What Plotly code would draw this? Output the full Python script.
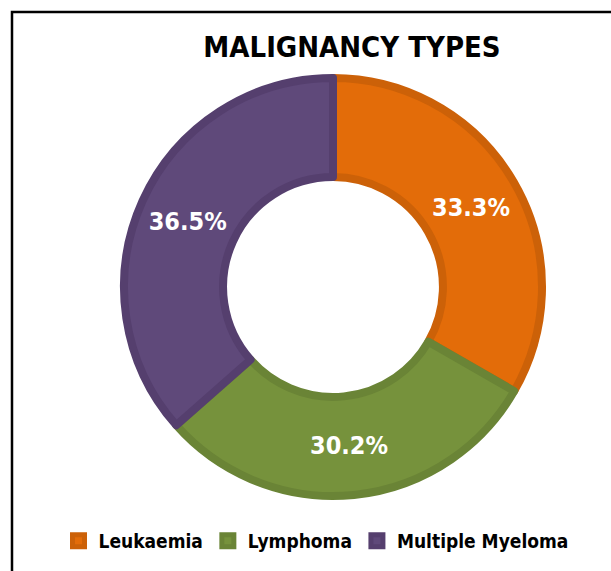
import plotly.graph_objects as go

categories = ["Leukaemia", "Lymphoma", "Multiple Myeloma"]
values = [33.3, 30.2, 36.5]
fill_colors = ["#E36C09", "#76923C", "#5F497A"]
edge_colors = ["#CC6108", "#6A8436", "#553F6E"]

W, H = 611, 571
FONT = "DejaVu Sans Condensed, Liberation Sans Narrow, sans-serif"

cx, cy_top, R = 333, 287, 209
cy = H - cy_top

fig = go.Figure(go.Pie(
    labels=categories,
    values=values,
    sort=False,
    direction="clockwise",
    rotation=0,
    hole=0.526,
    marker=dict(colors=fill_colors, line=dict(color=edge_colors, width=8)),
    texttemplate="%{percent:.1%}",
    textposition="inside",
    insidetextorientation="horizontal",
    textfont=dict(family=FONT, size=25, color="white", weight="bold"),
    domain=dict(x=[(cx - R) / W, (cx + R) / W], y=[(cy - R) / H, (cy + R) / H]),
    showlegend=True,
))

fig.update_layout(
    width=W, height=H,
    margin=dict(l=0, r=0, t=0, b=0),
    paper_bgcolor="white",
    plot_bgcolor="white",
    title=dict(text="MALIGNANCY TYPES", x=352 / W, xanchor="center",
               y=1 - 47 / H, yanchor="middle",
               font=dict(family=FONT, size=29, color="black", weight="bold")),
    legend=dict(orientation="h", x=316 / W, xanchor="center",
                y=(H - 541) / H, yanchor="middle",
                font=dict(family=FONT, size=19, color="black", weight="bold"),
                traceorder="normal"),
    shapes=[dict(type="path", xref="paper", yref="paper",
                 path=f"M {12/W},-0.01 L {12/W},{1-12/H} L 1.01,{1-12/H}",
                 line=dict(color="black", width=2.5))],
)

fig.write_html("out.html", config={"displayModeBar": False},
               post_script="document.body.style.margin='0';")
